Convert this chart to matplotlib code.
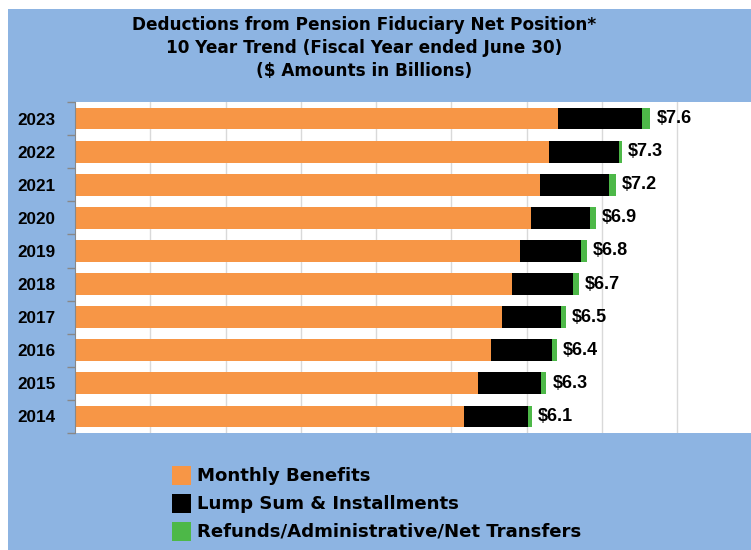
import numpy as np
import matplotlib
matplotlib.use('Agg')
import matplotlib.pyplot as plt
from matplotlib.patches import Rectangle

years = ['2014', '2015', '2016', '2017', '2018', '2019', '2020', '2021', '2022', '2023']
monthly = [5.16, 5.35, 5.52, 5.67, 5.80, 5.91, 6.05, 6.17, 6.29, 6.41]
lump_sum = [0.86, 0.84, 0.81, 0.78, 0.82, 0.81, 0.79, 0.92, 0.93, 1.12]
refunds = [0.05, 0.07, 0.07, 0.07, 0.07, 0.08, 0.08, 0.09, 0.04, 0.11]
totals = ['$6.1', '$6.3', '$6.4', '$6.5', '$6.7', '$6.8', '$6.9', '$7.2', '$7.3', '$7.6']

blue = '#8DB4E2'
orange = '#F79646'
green = '#4DB848'

W, H = 751, 550
fig = plt.figure(figsize=(W / 100, H / 100), dpi=100, facecolor=blue)
# thin white margin on top and left
fig.patches.append(Rectangle((0, 1 - 9 / H), 1, 9 / H, transform=fig.transFigure,
                             facecolor='white', edgecolor='none'))
fig.patches.append(Rectangle((0, 0), 8 / W, 1, transform=fig.transFigure,
                             facecolor='white', edgecolor='none'))

ax = fig.add_axes([75 / W, 1 - 433 / H, (9 * 75.3) / W, (433 - 102) / H])
ax.set_facecolor('white')

y = np.arange(len(years))
m = np.array(monthly)
l = np.array(lump_sum)
r = np.array(refunds)
bh = 0.66
ax.barh(y, m, height=bh, color=orange, zorder=2)
ax.barh(y, l, left=m, height=bh, color='black', zorder=2)
ax.barh(y, r, left=m + l, height=bh, color=green, zorder=2)

for i, t in enumerate(totals):
    ax.text(m[i] + l[i] + r[i] + 0.08, y[i], t, ha='left', va='center',
            fontsize=13, fontweight='bold', family='Liberation Sans', zorder=3)

ax.set_xlim(0, 9)
ax.set_ylim(-0.5, len(years) - 0.5)
ax.set_xticks(np.arange(1, 9))
ax.tick_params(axis='x', length=0, labelbottom=False)
ax.grid(axis='x', color='#D9D9D9', linewidth=1, zorder=1)

ax.set_yticks(y)
ax.set_yticklabels(years, fontsize=12.3, fontweight='bold', family='Liberation Sans')
ax.tick_params(axis='y', length=0, pad=14)
ax.set_yticks(np.arange(-0.5, len(years)), minor=True)
ax.tick_params(axis='y', which='minor', length=6, color='#888888', width=1)

for s in ['top', 'right', 'bottom']:
    ax.spines[s].set_visible(False)
ax.spines['left'].set_color('#888888')

title_lines = ['Deductions from Pension Fiduciary Net Position*',
               '10 Year Trend (Fiscal Year ended June 30)',
               '($ Amounts in Billions)']
for i, line in enumerate(title_lines):
    fig.text(364 / W, 1 - (25 + i * 23) / H, line, ha='center', va='center',
             fontsize=12.2, fontweight='bold', family='DejaVu Sans')

legend_labels = ['Monthly Benefits', 'Lump Sum & Installments',
                 'Refunds/Administrative/Net Transfers']
legend_colors = [orange, 'black', green]
for i, (lab, c) in enumerate(zip(legend_labels, legend_colors)):
    yc = 476 + i * 28
    fig.patches.append(Rectangle((172 / W, 1 - (yc + 9) / H), 19 / W, 19 / H,
                                 transform=fig.transFigure, facecolor=c,
                                 edgecolor='none'))
    fig.text(197 / W, 1 - yc / H, lab, ha='left', va='center',
             fontsize=13.1, fontweight='bold', family='DejaVu Sans')

fig.savefig('out.png', dpi=100, facecolor=fig.get_facecolor())
